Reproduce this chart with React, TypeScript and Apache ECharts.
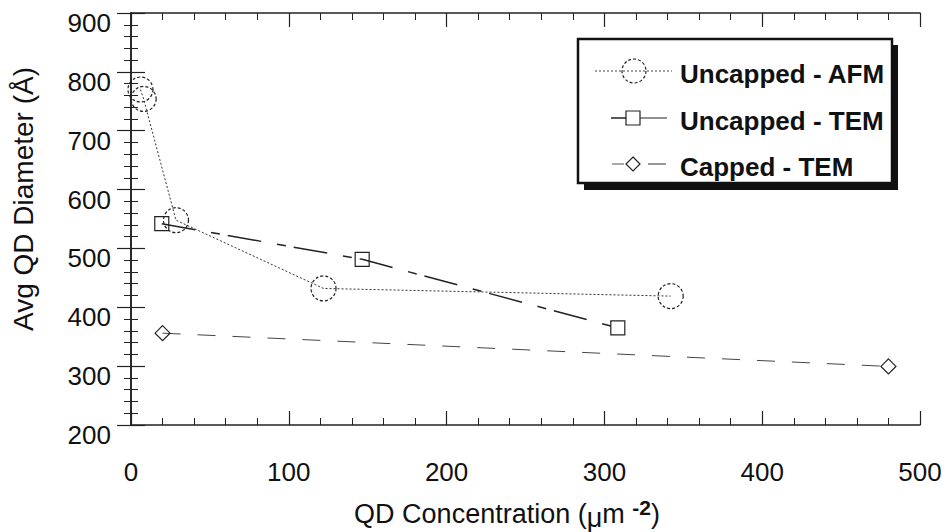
import React, { useEffect, useRef } from "react";
import * as echarts from "echarts";

// ---- data ----
const seriesNames = ["Uncapped - AFM", "Uncapped - TEM", "Capped - TEM"];
const afmX = [6, 8, 28.5, 122, 342];
const afmY = [770, 754, 548, 432, 419];
const temX = [19.5, 146.5, 308.5];
const temY = [542, 481.5, 365];
const capX = [20, 480];
const capY = [356, 299.5];
const xTickLabels = ["0", "100", "200", "300", "400", "500"];
const yTickLabels = ["200", "300", "400", "500", "600", "700", "800", "900"];
const xTitle = "QD Concentration (";
const yTitle = "Avg QD Diameter (Å)";

const FONT = '"Liberation Sans", Arial, Helvetica, sans-serif';
const INK = "#111";

const pairs = (xs: number[], ys: number[]) => xs.map((x, i) => [x, ys[i]]);

export default function App() {
  const ref = useRef<HTMLDivElement>(null);

  useEffect(() => {
    if (!ref.current) return;
    const chart = echarts.init(ref.current, null, { renderer: "svg" });

    const axisLine = { show: true, lineStyle: { color: "#222", width: 1.6 } };
    const tick = { show: true, inside: true, length: 14, lineStyle: { color: "#222", width: 1.2 } };
    const minor = { show: true, splitNumber: 5, length: 7, lineStyle: { color: "#222", width: 1 } };

    const xBase = {
      type: "value" as const,
      min: 0,
      max: 500,
      interval: 100,
      axisLine,
      axisTick: tick,
      minorTick: minor,
      splitLine: { show: false },
      minorSplitLine: { show: false },
    };
    const yBase = {
      type: "value" as const,
      min: 200,
      max: 900,
      interval: 100,
      axisLine,
      axisTick: tick,
      minorTick: minor,
      splitLine: { show: false },
      minorSplitLine: { show: false },
    };

    const legendRows = [
      { y: 74, sym: "circle" },
      { y: 121, sym: "square" },
      { y: 167, sym: "diamond" },
    ];
    const legendGraphics: any[] = [
      { type: "rect", shape: { x: 584, y: 45, width: 314, height: 145 }, style: { fill: "#111" }, z: 10 },
      {
        type: "rect",
        shape: { x: 578, y: 39, width: 314, height: 144 },
        style: { fill: "#fff", stroke: "#111", lineWidth: 2.5 },
        z: 11,
      },
    ];
    legendRows.forEach((r, i) => {
      const my = r.y - 3;
      if (r.sym === "circle") {
        legendGraphics.push(
          { type: "line", shape: { x1: 595, y1: my, x2: 672, y2: my }, style: { stroke: "#444", lineWidth: 1, lineDash: [2, 2] }, z: 12 },
          { type: "circle", shape: { cx: 634, cy: my, r: 12 }, style: { fill: "none", stroke: "#222", lineWidth: 1.2, lineDash: [3, 2] }, z: 12 }
        );
      } else if (r.sym === "square") {
        legendGraphics.push(
          { type: "line", shape: { x1: 611, y1: my, x2: 626, y2: my }, style: { stroke: "#222", lineWidth: 1.5 }, z: 12 },
          { type: "line", shape: { x1: 640, y1: my, x2: 667, y2: my }, style: { stroke: "#222", lineWidth: 1 }, z: 12 },
          { type: "rect", shape: { x: 626, y: my - 7, width: 14, height: 14 }, style: { fill: "none", stroke: "#222", lineWidth: 1.2 }, z: 12 }
        );
      } else {
        legendGraphics.push(
          { type: "line", shape: { x1: 612, y1: my, x2: 624, y2: my }, style: { stroke: "#555", lineWidth: 1 }, z: 12 },
          { type: "line", shape: { x1: 648, y1: my, x2: 666, y2: my }, style: { stroke: "#333", lineWidth: 1 }, z: 12 },
          {
            type: "polygon",
            shape: { points: [[633, my - 7], [640, my], [633, my + 7], [626, my]] },
            style: { fill: "none", stroke: "#222", lineWidth: 1.2 },
            z: 12,
          }
        );
      }
      legendGraphics.push({
        type: "text",
        x: 680,
        y: r.y,
        style: {
          text: seriesNames[i],
          font: `bold 26px ${FONT}`,
          fill: INK,
          align: "left",
          verticalAlign: "middle",
        },
        z: 12,
      });
    });

    chart.setOption({
      animation: false,
      backgroundColor: "#fff",
      grid: { left: 131, top: 13, right: 25, bottom: 107, containLabel: false },
      xAxis: [
        {
          ...xBase,
          position: "bottom",
          axisLabel: {
            show: true,
            margin: 34,
            fontSize: 26,
            fontFamily: FONT,
            color: INK,
            formatter: (v: number) => xTickLabels[Math.round(v / 100)] ?? "",
          },
        },
        { ...xBase, position: "top", axisLabel: { show: false } },
      ],
      yAxis: [
        {
          ...yBase,
          position: "left",
          axisLabel: {
            show: true,
            margin: 20,
            fontSize: 26,
            fontFamily: FONT,
            color: INK,
            verticalAlign: "top",
            lineHeight: 20,
            formatter: (v: number) => yTickLabels[Math.round((v - 200) / 100)] ?? "",
          },
        },
        { ...yBase, position: "right", axisLabel: { show: false } },
      ],
      series: [
        {
          name: seriesNames[0],
          type: "line",
          data: pairs(afmX, afmY),
          symbol: "circle",
          symbolSize: 25,
          lineStyle: { color: "#333", width: 1, type: [2, 2] },
          itemStyle: { color: "rgba(0,0,0,0)", borderColor: "#222", borderWidth: 1.2, borderType: [3, 2] },
          emphasis: { disabled: true },
          silent: true,
          z: 3,
        },
        {
          name: seriesNames[1],
          type: "line",
          data: pairs(temX, temY),
          symbol: "rect",
          symbolSize: 14,
          lineStyle: { color: "#222", width: 1.5, type: [34, 16, 9, 8] },
          itemStyle: { color: "rgba(0,0,0,0)", borderColor: "#222", borderWidth: 1.2 },
          emphasis: { disabled: true },
          silent: true,
          z: 3,
        },
        {
          name: seriesNames[2],
          type: "line",
          data: pairs(capX, capY),
          symbol: "diamond",
          symbolSize: 15,
          lineStyle: { color: "#444", width: 1, type: [18, 17] },
          itemStyle: { color: "rgba(0,0,0,0)", borderColor: "#222", borderWidth: 1.2 },
          emphasis: { disabled: true },
          silent: true,
          z: 3,
        },
      ],
      graphic: [
        {
          type: "text",
          x: 23,
          y: 199,
          rotation: Math.PI / 2,
          style: {
            text: yTitle,
            font: `28px ${FONT}`,
            fill: INK,
            align: "center",
            verticalAlign: "middle",
          },
        },
        {
          type: "text",
          x: 507,
          y: 514,
          style: {
            text: `{n|${xTitle}}{mu|μ}{n|m }{sup|-2}{n|)}`,
            align: "center",
            verticalAlign: "middle",
            rich: {
              n: { fontSize: 27, fontFamily: FONT, fill: INK, lineHeight: 34, verticalAlign: "middle" },
              mu: { fontSize: 27, fontFamily: FONT, fill: INK, lineHeight: 30, verticalAlign: "bottom" },
              sup: { fontSize: 21, fontWeight: "bold", fontFamily: FONT, fill: INK, lineHeight: 18, verticalAlign: "top" },
            },
          },
        },
        ...legendGraphics,
      ],
    });

    return () => chart.dispose();
  }, []);

  return (
    <div
      ref={ref}
      style={{ position: "fixed", left: 0, top: 0, width: 945, height: 532, background: "#fff" }}
    />
  );
}
